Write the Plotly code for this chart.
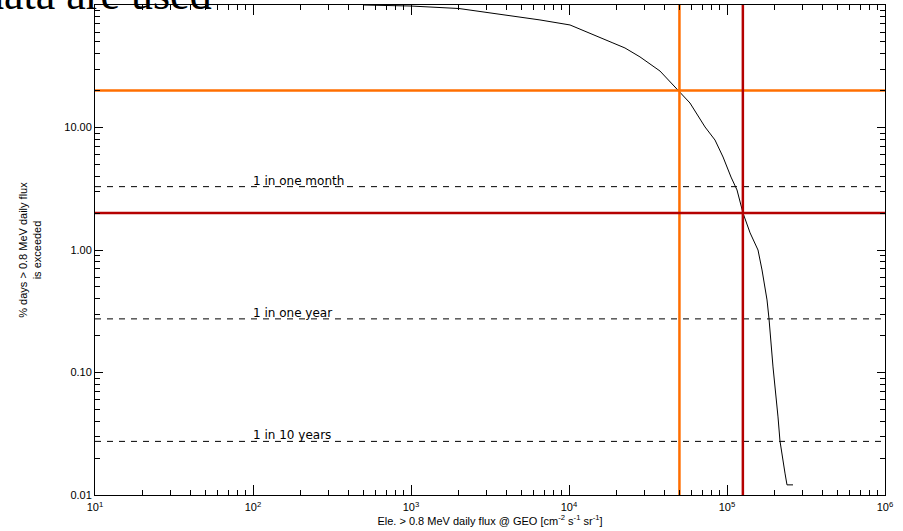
import math
import plotly.graph_objects as go

# Curve: % of days on which daily flux exceeds given level
flux = [500, 1000, 2013, 2940, 6550, 10150, 15700, 18970, 22600, 28130, 37670, 48980,
        58300, 72600, 83950, 94400, 106000, 115700, 126300, 140000, 157100, 166600,
        179200, 184500, 195500, 210300, 216400, 232800, 239700, 261600]
pct = [100, 98.1, 93.6, 87.7, 75.5, 68.7, 54.8, 49.0, 44.6, 37.7, 28.9, 20.2,
       15.85, 10.1, 7.9, 5.74, 3.94, 3.09, 2.0, 1.38, 1.0, 0.687,
       0.391, 0.274, 0.111, 0.0434, 0.0276, 0.0151, 0.0121, 0.0121]

# reference frequency lines
freq_labels = ["1 in one month", "1 in one year", "1 in 10 years"]
freq_values = [100 / 30.4, 100 / 365.0, 100 / 3650.0]
label_flux = 100

# threshold markers
orange_flux, orange_pct = 5.0e4, 20.0
red_flux, red_pct = 1.26e5, 2.0

x_range = [10, 1e6]
y_range = [0.01, 100]

x_tickvals = [1e1, 1e2, 1e3, 1e4, 1e5, 1e6]
x_ticktext = ["10<sup>1</sup>", "10<sup>2</sup>", "10<sup>3</sup>", "10<sup>4</sup>",
              "10<sup>5</sup>", "10<sup>6</sup>"]
y_tickvals = [0.01, 0.1, 1, 10, 100]
y_ticktext = ["0.01", "0.10", "1.00", "10.00", "100.00"]

ORANGE = "#FF6E00"
RED = "#B50000"

fig = go.Figure()

for v in freq_values:
    fig.add_trace(go.Scatter(x=x_range, y=[v, v], mode="lines",
                             line=dict(color="black", width=1, dash="6px,6px"),
                             hoverinfo="skip", showlegend=False))

fig.add_trace(go.Scatter(x=flux, y=pct, mode="lines",
                         line=dict(color="black", width=1), showlegend=False))

fig.add_trace(go.Scatter(x=x_range, y=[orange_pct, orange_pct], mode="lines",
                         line=dict(color=ORANGE, width=2.5), showlegend=False))
fig.add_trace(go.Scatter(x=[orange_flux, orange_flux], y=y_range, mode="lines",
                         line=dict(color=ORANGE, width=2.5), showlegend=False))
fig.add_trace(go.Scatter(x=x_range, y=[red_pct, red_pct], mode="lines",
                         line=dict(color=RED, width=2.5), showlegend=False))
fig.add_trace(go.Scatter(x=[red_flux, red_flux], y=y_range, mode="lines",
                         line=dict(color=RED, width=2.5), showlegend=False))

annotations = []
for lab, v in zip(freq_labels, freq_values):
    annotations.append(dict(x=math.log10(label_flux), y=math.log10(v), xref="x", yref="y",
                            xanchor="left", yanchor="bottom",
                            text=lab, showarrow=False, yshift=-3, xshift=-2,
                            font=dict(family="DejaVu Sans", size=12, color="black")))
annotations.append(dict(x=-0.146, y=1.022, xref="paper", yref="paper", xanchor="left",
                        yanchor="middle", text="data are used", showarrow=False,
                        font=dict(family="Liberation Serif", size=44, color="black")))

axis_common = dict(showline=True, linecolor="black", linewidth=1, mirror="ticks",
                   ticks="inside", showgrid=False, zeroline=False, automargin=False,
                   tickfont=dict(family="Liberation Sans", size=11, color="black"),
                   tickcolor="black")

fig.update_layout(
    width=903, height=531,
    margin=dict(l=95, r=18, t=5, b=36),
    paper_bgcolor="white", plot_bgcolor="white",
    xaxis=dict(type="log", range=[1, 6], tickvals=x_tickvals, ticktext=x_ticktext,
               ticklen=10, ticklabelstandoff=2,
               minor=dict(ticks="inside", ticklen=5, tickcolor="black", dtick="D1"),
               title=dict(text="Ele. > 0.8 MeV daily flux @ GEO [cm<sup>-2</sup> s<sup>-1</sup> sr<sup>-1</sup>]",
                          font=dict(family="Liberation Sans", size=11, color="black"),
                          standoff=2),
               **axis_common),
    yaxis=dict(type="log", range=[-2, 2], tickvals=y_tickvals, ticktext=y_ticktext,
               ticklen=8,
               minor=dict(ticks="inside", ticklen=5, tickcolor="black", dtick="D1"),
               title=dict(text="% days > 0.8 MeV daily flux<br>is exceeded",
                          font=dict(family="Liberation Sans", size=11, color="black"),
                          standoff=20),
               **axis_common),
    annotations=annotations,
)

fig.write_html("out.html", config={"displayModeBar": False},
               post_script="document.body.style.margin='0px';document.body.style.overflow='hidden';")
